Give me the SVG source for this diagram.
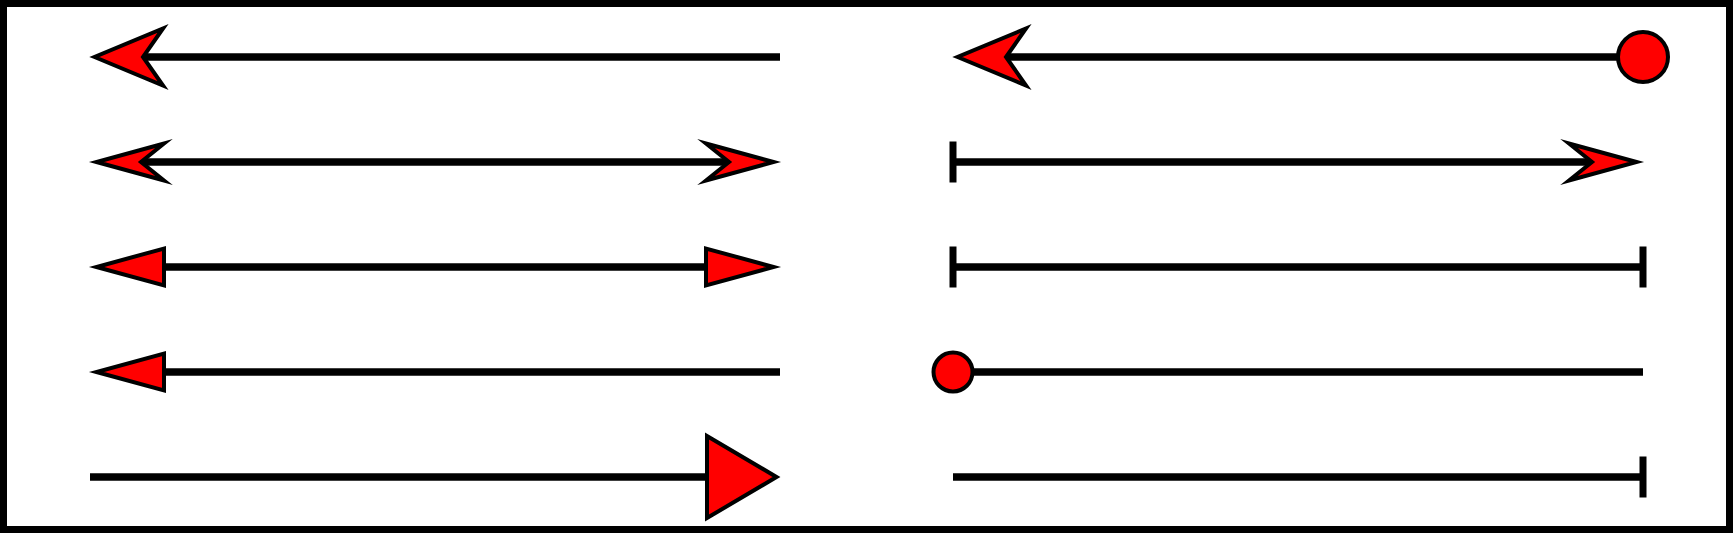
<svg xmlns="http://www.w3.org/2000/svg" width="1734" height="534" viewBox="0 0 1734 534">
  <style>
    .ln { stroke: #000; stroke-width: 7.5; fill: none; }
    .mk { fill: #f00; stroke: #000; stroke-width: 4; stroke-linejoin: miter; stroke-miterlimit: 10; }
    .bar { fill: #000; stroke: none; }
  </style>
  <defs>
    <marker id="notchBig" markerUnits="userSpaceOnUse" orient="auto-start-reverse" refX="0" refY="0" markerWidth="1" markerHeight="1" overflow="visible">
      <path class="mk" d="M45.5,0 L-23,-28.5 L-3,0 L-23,28.5 Z"/>
    </marker>
    <marker id="notchSmall" markerUnits="userSpaceOnUse" orient="auto-start-reverse" refX="0" refY="0" markerWidth="1" markerHeight="1" overflow="visible">
      <path class="mk" d="M38.5,0 L-29,-18.5 L-6,0 L-29,18.5 Z"/>
    </marker>
    <marker id="triSmall" markerUnits="userSpaceOnUse" orient="auto-start-reverse" refX="0" refY="0" markerWidth="1" markerHeight="1" overflow="visible">
      <path class="mk" d="M63.5,0 L-4,-18.5 L-4,18.5 Z"/>
    </marker>
    <marker id="triBig" markerUnits="userSpaceOnUse" orient="auto-start-reverse" refX="0" refY="0" markerWidth="1" markerHeight="1" overflow="visible">
      <path class="mk" d="M66.5,0 L-3,-41 L-3,41 Z"/>
    </marker>
    <marker id="tee" markerUnits="userSpaceOnUse" orient="auto-start-reverse" refX="0" refY="0" markerWidth="1" markerHeight="1" overflow="visible">
      <rect class="bar" x="-3.5" y="-20.5" width="7" height="41"/>
    </marker>
    <marker id="dotBig" markerUnits="userSpaceOnUse" orient="auto" refX="0" refY="0" markerWidth="1" markerHeight="1" overflow="visible">
      <circle class="mk" cx="0" cy="0" r="25"/>
    </marker>
    <marker id="dotSmall" markerUnits="userSpaceOnUse" orient="auto" refX="0" refY="0" markerWidth="1" markerHeight="1" overflow="visible">
      <circle class="mk" cx="0" cy="0" r="19.5"/>
    </marker>
  </defs>
  <g id="frame">
    <rect x="3.5" y="3.5" width="1726" height="526" fill="#fff" stroke="#000" stroke-width="7"/>
  </g>
  <g id="connectors">
    <line id="c1" class="ln" x1="140" y1="57" x2="780" y2="57" marker-start="url(#notchBig)"/>
    <line id="c2" class="ln" x1="135" y1="162" x2="735" y2="162" marker-start="url(#notchSmall)" marker-end="url(#notchSmall)"/>
    <line id="c3" class="ln" x1="160" y1="267" x2="710" y2="267" marker-start="url(#triSmall)" marker-end="url(#triSmall)"/>
    <line id="c4" class="ln" x1="160" y1="372" x2="780" y2="372" marker-start="url(#triSmall)"/>
    <line id="c5" class="ln" x1="90" y1="477" x2="710" y2="477" marker-end="url(#triBig)"/>
    <line id="c6" class="ln" x1="1003" y1="57" x2="1643" y2="57" marker-start="url(#notchBig)" marker-end="url(#dotBig)"/>
    <line id="c7" class="ln" x1="953" y1="162" x2="1598" y2="162" marker-start="url(#tee)" marker-end="url(#notchSmall)"/>
    <line id="c8" class="ln" x1="953" y1="267" x2="1643" y2="267" marker-start="url(#tee)" marker-end="url(#tee)"/>
    <line id="c9" class="ln" x1="953" y1="372" x2="1643" y2="372" marker-start="url(#dotSmall)"/>
    <line id="c10" class="ln" x1="953" y1="477" x2="1643" y2="477" marker-end="url(#tee)"/>
  </g>
</svg>
